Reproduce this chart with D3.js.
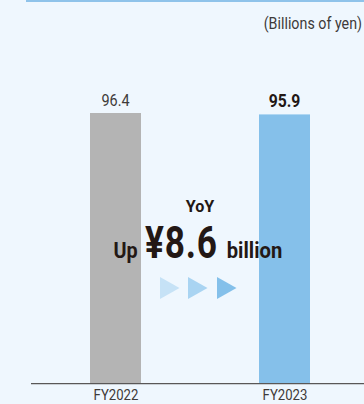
<!DOCTYPE html>
<html>
<head>
<meta charset="utf-8">
<script src="https://cdn.jsdelivr.net/npm/d3@7"></script>
<style>
  html, body { margin: 0; padding: 0; background: #eff7fe; }
  svg { display: block; }
  text { font-family: "Roboto", "Liberation Sans", sans-serif; fill: #231815; }
</style>
</head>
<body>
<svg id="chart" width="364" height="404"></svg>
<script>
// Net sales by fiscal year (billions of yen)
const categories = ["FY2022", "FY2023"];
const values = [96.4, 95.9];
const valueLabels = ["96.4", "95.9"];
const unitLabel = "(Billions of yen)";
const yoyTitle = "YoY";
const yoyPrefix = "Up";
const yoyAmount = "¥8.6";
const yoySuffix = "billion";

const W = 364, H = 404;
const svg = d3.select("#chart");

// horizontally condensed text, anchored at (x, y)
function ctext(parent, x, y, str, opts) {
  const sx = opts.sx || 0.85;
  return parent.append("text")
    .attr("transform", `translate(${x},${y}) scale(${sx},1)`)
    .attr("text-anchor", opts.anchor || "middle")
    .attr("font-size", opts.size)
    .attr("font-weight", opts.weight || "normal")
    .attr("letter-spacing", opts.ls || 0)
    .style("fill", opts.fill || "#231815")
    .text(str);
}

const xc = d3.scalePoint().domain(categories).range([115.5, 284.5]);
const barW = 51;
const y = d3.scaleLinear().domain([0, 100]).range([383.7, 102.9]);

// top rule
svg.append("line")
  .attr("x1", 26).attr("x2", W).attr("y1", 1).attr("y2", 1)
  .attr("stroke", "#8fc3ea").attr("stroke-width", 2);

// unit label
ctext(svg, 362, 28.5, unitLabel, { anchor: "end", size: 17, sx: 0.84, fill: "#3e3a39" });

const colors = ["#b4b4b4", "#85c0ea"];

svg.selectAll("rect.bar")
  .data(values)
  .join("rect")
  .attr("class", "bar")
  .attr("x", (d, i) => xc(categories[i]) - barW / 2)
  .attr("width", barW)
  .attr("y", d => y(d))
  .attr("height", d => y(0) - y(d))
  .attr("fill", (d, i) => colors[i]);

values.forEach((d, i) => {
  const bold = i === 1;
  ctext(svg, xc(categories[i]), y(d) - 7.5, valueLabels[i], {
    size: bold ? 17.5 : 17,
    weight: bold ? "bold" : "normal",
    sx: bold ? 0.9 : 0.85,
    fill: bold ? "#231815" : "#3e3a39"
  });
});

// baseline axis
const axis = d3.axisBottom(xc).tickSize(0).tickPadding(0);
const gAxis = svg.append("g")
  .attr("transform", `translate(0,${y(0)})`)
  .call(axis);
gAxis.select(".domain").remove();
gAxis.selectAll("text")
  .attr("y", 0).attr("dy", 0)
  .attr("transform", "translate(0,16.5) scale(0.85,1)")
  .attr("font-size", 15.5)
  .style("font-family", '"Roboto", sans-serif')
  .style("fill", "#3e3a39");
svg.append("line")
  .attr("x1", 31).attr("x2", W).attr("y1", y(0)).attr("y2", y(0))
  .attr("stroke", "#595757").attr("stroke-width", 1.3);

// YoY annotation
ctext(svg, 200, 211.7, yoyTitle, { size: 17, weight: "bold", sx: 0.95 });
ctext(svg, 137.7, 258, yoyPrefix, { anchor: "end", size: 22.5, weight: "bold", sx: 0.88 });
ctext(svg, 145, 258, yoyAmount, { anchor: "start", size: 44, weight: "bold", sx: 0.8, ls: 1 });
ctext(svg, 226.7, 258, yoySuffix, { anchor: "start", size: 22, weight: "bold", sx: 0.92 });

// arrow markers
const arrowColors = ["#c6e2f6", "#a9d4f2", "#84c0ea"];
const arrowX = [160, 188, 217];
svg.selectAll("path.arrow")
  .data(arrowX)
  .join("path")
  .attr("class", "arrow")
  .attr("d", d => `M${d},277 L${d + 19.5},288 L${d},299 Z`)
  .attr("fill", (d, i) => arrowColors[i]);
</script>
</body>
</html>
